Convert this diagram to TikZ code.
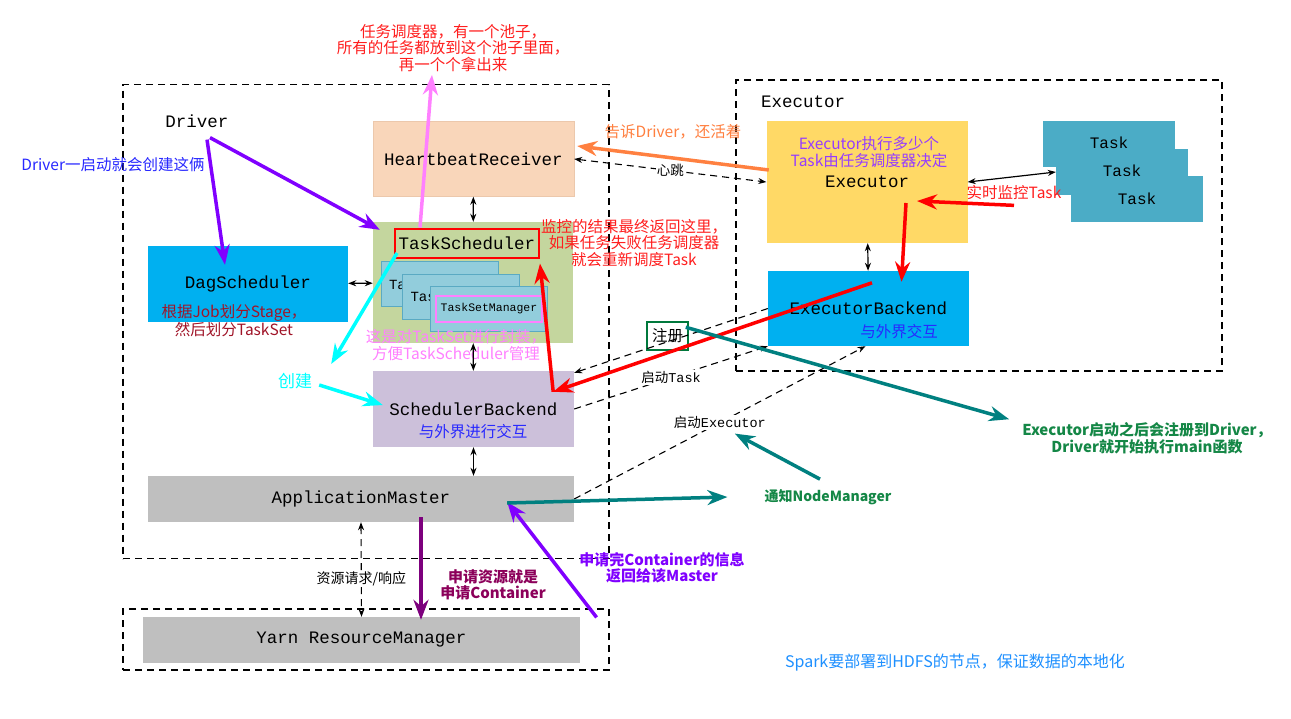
\documentclass[tikz,border=0pt]{standalone}
\usepackage{fontspec}
\setmainfont{Noto Sans CJK SC}
\setmonofont{Liberation Mono}
\usetikzlibrary{positioning, arrows.meta, calc}

\definecolor{peach}{RGB}{249,214,186}
\definecolor{peachedge}{RGB}{236,200,172}
\definecolor{sgreen}{RGB}{196,214,158}
\definecolor{tsblue}{RGB}{146,205,220}
\definecolor{tsedge}{RGB}{90,170,195}
\definecolor{pinkline}{RGB}{255,128,255}
\definecolor{dagblue}{RGB}{0,176,240}
\definecolor{lavender}{RGB}{204,192,218}
\definecolor{amgray}{RGB}{191,191,191}
\definecolor{exeyellow}{RGB}{255,217,102}
\definecolor{taskteal}{RGB}{75,172,198}
\definecolor{notered}{RGB}{255,30,30}
\definecolor{noteblue}{RGB}{40,40,255}
\definecolor{darkred}{RGB}{160,20,40}
\definecolor{exeviolet}{RGB}{150,60,255}
\definecolor{arrviolet}{RGB}{128,0,255}
\definecolor{alivecol}{RGB}{255,128,64}
\definecolor{aqua}{RGB}{0,255,255}
\definecolor{plumcol}{RGB}{140,0,90}
\definecolor{plumarr}{RGB}{125,0,125}
\definecolor{tealarr}{RGB}{0,128,128}
\definecolor{tealtext}{RGB}{20,135,70}
\definecolor{skyblue}{RGB}{30,144,255}
\definecolor{reggreen}{RGB}{0,120,60}

\newcommand\codefont{\fontsize{17.5}{20}\selectfont\ttfamily}
\newcommand\tasksetfont{\fontsize{14}{16}\selectfont\ttfamily}
\newcommand\tsmfont{\fontsize{11.5}{13}\selectfont\ttfamily}
\newcommand\notefont{\fontsize{15.5}{16.5}\selectfont}
\newcommand\boldnotefont{\fontsize{15}{16.5}\selectfont\bfseries}
\newcommand\linkfont{\fontsize{13.5}{15}\selectfont}

\begin{document}
\begin{tikzpicture}[x=1pt, y=-1pt,% pixel grid, y down
node distance = 0mm and 12mm,
   > = {Stealth[length=8pt,width=6pt]},
   box/.style = {inner sep=0pt, font=\codefont},
      frame/.style = {draw, line width=1.2pt, dash pattern=on 7pt off 5pt, inner sep=0pt},
      tsbox/.style = {box, fill=tsblue, draw=tsedge, line width=1pt, minimum width=117pt,
                      minimum height=45pt, text width=101pt, inner xsep=8pt, align=left, font=\tasksetfont},
      taskbox/.style = {box, fill=taskteal, minimum width=132pt, minimum height=46pt,
                        font=\fontsize{16}{18}\selectfont\ttfamily},
      note/.style = {font=\notefont, align=center, inner sep=0pt},
      dbl/.style = {line width=1.2pt, <->},
      link/.style = {line width=1.1pt, dash pattern=on 7pt off 5pt},
      fat/.style = {line width=3.5pt, -{Stealth[length=20pt,width=15pt]}}
                        ]
\path [use as bounding box, fill=white] (0,0) rectangle (1291,718);

% dashed frames
\node (drvframe) [frame, minimum width=486pt, minimum height=474pt] at (366,321.5) {};
\node (yarnframe) [frame, minimum width=486pt, minimum height=61pt] at (366,639.5) {};
\node (exeframe) [frame, minimum width=486pt, minimum height=291pt] at (979,225.5) {};
\node (driver) [box] at (197,121) {Driver};
\node (exetitle) [box] at (803,102) {Executor};

% driver side
\node (hb) [box, fill=peach, draw=peachedge, minimum width=201pt, minimum height=75pt] at (473.5,159) {HeartbeatReceiver};
\node (tsgroup) [fill=sgreen, minimum width=200pt, minimum height=121pt, inner sep=0pt] at (473,282.5) {};
\node (ts) [box, draw=red, line width=2pt, minimum width=144pt, minimum height=29pt] at (467,243) {TaskScheduler};
\node (tset1) [tsbox] at (439.5,284) {TaskSet};
\node (tset2) [tsbox] at (461,296.5) {TaskSet};
\node (tset3) [tsbox] at (489,308.5) {};
\node (tsm) [box, draw=pinkline, line width=2pt, minimum width=106pt, minimum height=26pt, font=\tsmfont] at (489,309) {TaskSetManager};
\node (dag) [box, fill=dagblue, minimum width=200pt, minimum height=76pt] at (248,284) {DagScheduler};
\node (sb) [box, fill=lavender, minimum width=201pt, minimum height=76pt] at (473.5,409) {SchedulerBackend};
\node (am) [box, fill=amgray, minimum width=426pt, minimum height=46pt] at (361,499) {ApplicationMaster};
\node (rm) [box, fill=amgray, minimum width=437pt, minimum height=46pt] at (361.5,640) {Yarn ResourceManager};

% executor side
\node (exe) [box, fill=exeyellow, minimum width=201pt, minimum height=122pt] at (867,182) {Executor};
\node (exb) [box, fill=dagblue, minimum width=201pt, minimum height=75pt] at (868.5,308.5) {ExecutorBackend};
\node (task1) [taskbox] at (1109,144) {\raisebox{2pt}{Task}};
\node (task2) [taskbox] at (1122,172) {\raisebox{3pt}{Task}};
\node (task3) [taskbox] at (1137,199) {Task};

% notes
\node (poolnote) [note, text=notered] at (453,48) {任务调度器，有一个池子，\\所有的任务都放到这个池子里面，\\再一个个拿出来};
\node (drvnote) [note, text=noteblue] at (113,165) {Driver一启动就会创建这俩};
\node (dagnote) [note, text=darkred] at (234,321) {根据Job划分Stage，\\然后划分TaskSet};
\node (tsetnote) [note, text=pinkline] at (456,345) {这是对TaskSet进行封装，\\方便TaskScheduler管理};
\node (retnote) [note, text=notered] at (634,243) {监控的结果最终返回这里，\\如果任务失败任务调度器\\就会重新调度Task};
\node (sbnote) [note, text=noteblue] at (473,432) {与外界进行交互};
\node (exenote) [note, text=exeviolet] at (869,152) {Executor执行多少个\\Task由任务调度器决定};
\node (exbnote) [note, text=noteblue] at (899,332) {与外界交互};
\node (alive) [note, text=alivecol] at (673,132) {告诉Driver，还活着};
\node (monitor) [note, text=notered] at (1014,193) {实时监控Task};
\node (create) [note, text=aqua, font=\fontsize{17}{19}\selectfont] at (295,381) {创建};
\node (reg) [draw=reggreen, line width=1.5pt, minimum width=41pt, minimum height=28pt, inner sep=0pt, font=\notefont] at (667.5,336) {注册};
\node (cnote) [note, text=plumcol, font=\boldnotefont] at (493,585) {申请资源就是\\申请Container};
\node (backnote) [note, text=arrviolet, font=\boldnotefont] at (662,568) {申请完Container的信息\\返回给该Master};
\node (nmnote) [note, text=tealtext, font=\fontsize{14}{16}\selectfont\bfseries] at (828,497) {通知NodeManager};
\node (regnote) [note, text=tealtext, font=\boldnotefont] at (1147,438) {Executor启动之后会注册到Driver，\\Driver就开始执行main函数};
\node (hdfs) [note, text=skyblue, font=\fontsize{16}{18}\selectfont] at (955,663) {Spark要部署到HDFS的节点，保证数据的本地化};

% small black links
\draw [dbl] (hb) -- (tsgroup);
\draw [dbl] (tsgroup) -- (sb);
\draw [dbl] (sb.south) -- (sb.south |- am.north);
\draw [dbl] (dag) -- (tsgroup);
\draw [dbl] (exe) -- (exb);
\draw [dbl] (exe.east) -- (task2.west);

% dashed messages
\draw [link, <->] (hb.east) -- node [note, fill=white, inner sep=1pt, font=\linkfont] {心跳} (exe.west);
\draw [link, ->] (exb.west) -- ([yshift=-2pt]sb.north east);
\draw [link, ->] (sb.east) -- node [note, fill=white, inner sep=1pt, font=\linkfont] {启动\texttt{Task}} (exb.south west);
\draw [link, ->] (am.east) -- node (startexe) [note, fill=white, inner sep=1pt, font=\linkfont] {启动\texttt{Executor}} ([xshift=-3pt]exb.south);
\draw [link, <->] (am.south) -- node [pos=0.6, note, fill=white, inner sep=1pt, font=\fontsize{14}{16}\selectfont] {资源请求/响应} (rm.north);

% annotation arrows
\draw [fat, pinkline] ([xshift=-47pt]ts.north) -- ([xshift=-21pt,yshift=-3pt]poolnote.south);
\draw [fat, arrviolet] ([xshift=10pt,yshift=-12pt]driver.south) -- ([xshift=-23pt,yshift=-19pt]dag.north);
\draw [fat, arrviolet] ([xshift=13pt,yshift=-10pt]driver.south) -- ([xshift=7pt,yshift=-8pt]tsgroup.north west);
\draw [fat, aqua] ([xshift=3pt,yshift=-10pt]ts.west) -- ([xshift=19pt,yshift=9pt]create.north east);
\draw [fat, aqua] ([xshift=7pt,yshift=-4pt]create.east) -- ([xshift=10pt,yshift=4pt]sb.west);
\coordinate (back) at ([xshift=-21pt,yshift=-21pt]sb.north east);
\draw [fat, red] ([xshift=3.5pt,yshift=-12pt]exb.north) -- (back);
\draw [fat, red] (back) -- ([yshift=-5pt]ts.south east);
\draw [fat, red] ([xshift=39pt,yshift=-21pt]exe.center) -- ([xshift=33pt,yshift=-11pt]exb.north);
\draw [fat, red] ([yshift=-5pt]monitor.south) -- ([xshift=50pt,yshift=-19pt]exe.center);
\draw [fat, alivecol] ([xshift=2.5pt,yshift=12pt]exe.west) -- ([xshift=3pt,yshift=13pt]hb.east);
\draw [fat, arrviolet] ([xshift=-13pt,yshift=-9pt]yarnframe.north east) -- ([xshift=-67pt,yshift=-3pt]am.east);
\draw [fat, plumarr] ([xshift=60pt,yshift=-18pt]am.center) -- ([xshift=59.5pt,yshift=-3pt]rm.north);
\draw [fat, tealarr] ([xshift=-67pt,yshift=-4pt]am.east) -- ([xshift=-37pt]nmnote.west);
\draw [fat, tealarr] ([xshift=-8pt,yshift=10pt]nmnote.north) -- ([xshift=15pt,yshift=-11pt]startexe.center);
\draw [fat, tealarr] ([xshift=-3pt,yshift=-6pt]reg.north east) -- ([xshift=-13pt,yshift=3pt]regnote.north west);
\end{tikzpicture}
\end{document}
